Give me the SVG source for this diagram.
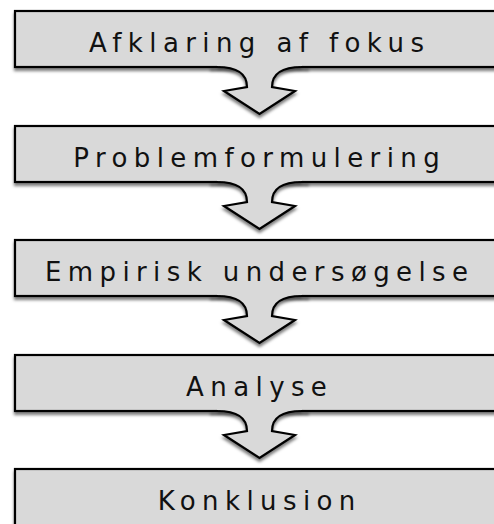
<svg xmlns="http://www.w3.org/2000/svg" width="494" height="524" viewBox="0 0 494 524">
<defs>
<filter id="sh" x="-10%" y="-20%" width="120%" height="160%">
<feDropShadow dx="0" dy="3" stdDeviation="1.8" flood-color="#000" flood-opacity="0.5"/>
</filter>
<path id="arrowFill" d="M217,65 H302 V67 C284,67 272,72 272,87 L295,91 L259.5,114 L224,91 L247,87 C247,72 235,67 217,67 Z"/>
<path id="arrowLine" d="M210,67 H217 C235,67 247,72 247,87 L224,91 L259.5,114 L295,91 L272,87 C272,72 284,67 302,67 H309"/>
</defs>
<style>
.box{fill:#d9d9d9;stroke:#000;stroke-width:2.2}
.lbl{font-family:"DejaVu Sans",Verdana,sans-serif;font-size:26px;letter-spacing:6.4px;fill:#111;text-anchor:middle}
.af{fill:#d9d9d9;stroke:none}
.al{fill:none;stroke:#000;stroke-width:2.2;stroke-linejoin:miter}
</style>
<rect width="494" height="524" fill="#fff"/>
<g id="node-afklaring">
<rect class="box" x="15" y="11" width="489" height="56" filter="url(#sh)"/>
<text class="lbl" x="259.7" y="52">Afklaring af fokus</text>
</g>
<g id="node-problemformulering">
<rect class="box" x="15" y="126" width="489" height="56" filter="url(#sh)"/>
<text class="lbl" x="259.7" y="167">Problemformulering</text>
</g>
<g id="node-empirisk">
<rect class="box" x="15" y="240" width="489" height="56" filter="url(#sh)"/>
<text class="lbl" x="259.7" y="281">Empirisk undersøgelse</text>
</g>
<g id="node-analyse">
<rect class="box" x="15" y="355" width="489" height="56" filter="url(#sh)"/>
<text class="lbl" x="259.7" y="396">Analyse</text>
</g>
<g id="node-konklusion">
<rect class="box" x="15" y="469" width="489" height="70" filter="url(#sh)"/>
<text class="lbl" x="259.7" y="510">Konklusion</text>
</g>
<g id="connectors">
<g filter="url(#sh)">
<use href="#arrowFill" class="af"/>
<use href="#arrowLine" class="al"/>
</g>
<g filter="url(#sh)" transform="translate(0,115)">
<use href="#arrowFill" class="af"/>
<use href="#arrowLine" class="al"/>
</g>
<g filter="url(#sh)" transform="translate(0,229)">
<use href="#arrowFill" class="af"/>
<use href="#arrowLine" class="al"/>
</g>
<g filter="url(#sh)" transform="translate(0,344)">
<use href="#arrowFill" class="af"/>
<use href="#arrowLine" class="al"/>
</g>
</g>
</svg>
